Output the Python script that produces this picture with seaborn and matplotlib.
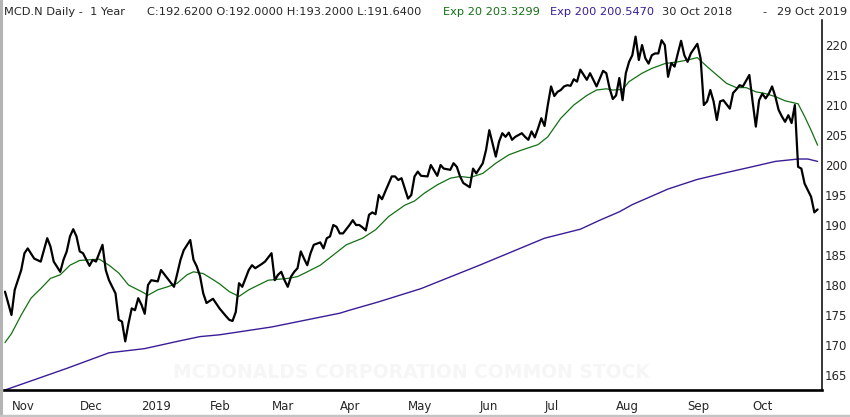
import matplotlib
matplotlib.use('Agg')
import matplotlib.pyplot as plt
from matplotlib.lines import Line2D
import seaborn as sns

# ---- data (x = trading day number since 30 Oct 2018) ----
close_day = [0, 2, 3, 5, 6, 7, 9, 11, 13, 14,
             15, 17, 18, 19, 20, 21, 22, 23, 24, 26,
             27, 28, 30, 31, 32, 33, 34, 35, 36, 37,
             38, 39, 40, 41, 42, 43, 44, 45, 47, 48,
             50, 52, 53, 54, 55, 57, 58, 59, 60, 61,
             62, 64, 66, 68, 69, 70, 71, 72, 73, 75,
             76, 77, 79, 80, 82, 83, 84, 85, 86, 87,
             88, 89, 90, 91, 92, 93, 94, 95, 97, 98,
             99, 100, 101, 102, 103, 104, 106, 107, 108, 109,
             110, 111, 112, 113, 114, 115, 116, 117, 119, 120,
             121, 122, 124, 125, 126, 127, 128, 130, 131, 133,
             134, 135, 137, 138, 139, 140, 141, 143, 144, 145,
             147, 148, 149, 151, 152, 153, 154, 155, 156, 157,
             159, 160, 161, 162, 163, 164, 165, 166, 167, 168,
             169, 170, 171, 172, 173, 174, 175, 176, 177, 179,
             180, 181, 182, 184, 185, 186, 187, 188, 189, 190,
             191, 192, 193, 194, 195, 196, 197, 198, 199, 200,
             201, 202, 203, 204, 205, 206, 207, 208, 209, 210,
             211, 213, 214, 215, 216, 217, 218, 219, 220, 221,
             223, 224, 225, 226, 227, 229, 230, 231, 232, 233,
             234, 235, 236, 237, 238, 239, 240, 241, 242, 243,
             244, 245, 246, 248, 249, 250]
close_price = [178.9, 175.0, 179.2, 182.5, 185.3, 186.1, 184.4, 183.9, 187.8, 186.4,
               183.9, 182.2, 184.2, 185.6, 188.1, 189.3, 188.1, 185.6, 185.3, 183.2,
               184.2, 183.9, 186.7, 182.5, 180.8, 179.7, 178.6, 174.2, 173.9, 170.6,
               173.6, 176.1, 175.8, 177.8, 176.7, 175.2, 180.0, 180.8, 180.6, 182.5,
               181.1, 179.7, 181.9, 184.2, 185.8, 187.5, 184.2, 183.1, 181.5, 178.6,
               177.0, 177.7, 176.1, 174.8, 174.2, 174.0, 175.5, 180.3, 179.7, 182.5,
               183.3, 182.8, 183.5, 183.9, 185.3, 180.8, 181.7, 182.2, 180.8, 179.7,
               181.4, 182.2, 182.8, 185.6, 184.4, 183.3, 185.3, 186.7, 187.1, 186.1,
               187.8, 188.1, 190.0, 189.7, 188.6, 188.6, 190.0, 190.8, 190.0, 190.0,
               189.6, 189.1, 191.7, 192.1, 191.8, 195.0, 194.3, 195.6, 198.1, 198.1,
               197.5, 197.8, 194.4, 195.0, 198.1, 198.9, 198.2, 198.1, 200.0, 198.2,
               200.0, 199.4, 199.2, 200.3, 199.7, 198.1, 197.0, 196.3, 199.4, 198.6,
               200.3, 202.5, 205.8, 201.4, 203.9, 205.3, 204.7, 205.4, 204.2, 204.7,
               205.3, 204.7, 204.2, 205.6, 204.6, 206.1, 207.8, 206.5, 210.0, 213.1,
               211.5, 212.2, 212.5, 213.1, 213.3, 213.2, 214.3, 213.9, 215.9, 214.2,
               215.3, 214.2, 213.1, 215.7, 215.3, 212.8, 211.0, 211.6, 214.5, 210.8,
               215.3, 217.2, 218.3, 221.4, 217.5, 220.0, 217.8, 216.9, 218.3, 218.6,
               218.6, 220.8, 220.0, 214.7, 217.0, 216.4, 218.6, 220.7, 218.3, 217.2,
               218.6, 220.2, 217.8, 210.0, 210.6, 212.5, 210.6, 207.5, 210.6, 210.8,
               209.4, 212.0, 212.6, 213.3, 213.1, 215.0, 210.6, 206.4, 210.8, 211.9,
               211.1, 211.9, 213.1, 211.4, 209.2, 208.1, 207.2, 208.3, 207.0, 210.0,
               199.7, 199.4, 196.9, 194.7, 192.1, 192.6]

ema20_day = [0, 2, 5, 8, 11, 14, 17, 20, 23, 26, 29, 32, 35, 38, 42, 44, 47, 50, 53, 56,
             58, 61, 64, 66, 69, 72, 75, 81, 87, 90, 93, 97, 101, 105, 110, 114, 118, 123,
             126, 129, 133, 137, 140, 143, 147, 151, 155, 159, 164, 167, 171, 175, 179,
             182, 185, 187, 190, 192, 196, 199, 203, 207, 210, 213, 216, 219, 222, 225,
             228, 231, 234, 237, 240, 244, 246, 248, 250]
ema20 = [170.4, 171.9, 175.0, 177.8, 179.4, 181.1, 181.7, 183.3, 184.1, 184.2, 184.3,
         183.3, 182.0, 180.0, 178.9, 178.3, 179.2, 179.7, 180.3, 181.7, 182.2, 181.9,
         180.9, 180.2, 178.9, 178.1, 179.2, 180.8, 181.1, 181.4, 182.2, 183.3, 185.0,
         186.7, 187.8, 189.2, 191.4, 193.3, 194.0, 195.3, 196.7, 197.8, 198.1, 197.9,
         198.6, 200.3, 201.7, 202.5, 203.4, 204.7, 207.8, 210.0, 211.6, 212.5, 212.7,
         212.5, 212.6, 213.9, 215.3, 216.1, 216.9, 217.2, 217.5, 217.9, 216.4, 215.0,
         213.6, 212.9, 212.9, 212.2, 211.9, 211.4, 210.7, 210.2, 208.1, 205.8, 203.3]

ema200_day = [0, 9, 19, 32, 43, 53, 60, 66, 82, 103, 106, 115, 128, 146, 166, 177, 183,
              189, 193, 204, 213, 220, 229, 237, 244, 247, 250]
ema200 = [162.5, 164.2, 166.1, 168.7, 169.4, 170.6, 171.4, 171.7, 173.0, 175.3, 175.8,
          177.2, 179.4, 183.3, 187.8, 189.3, 190.8, 192.2, 193.4, 196.0, 197.6, 198.5,
          199.6, 200.6, 201.0, 201.0, 200.6]

# month boundaries (trading day number) and their labels
month_day = [2, 23, 42, 63, 82, 103, 124, 146, 166, 188, 210, 230]
month_label = ['Nov', 'Dec', '2019', 'Feb', 'Mar', 'Apr', 'May', 'Jun', 'Jul',
               'Aug', 'Sep', 'Oct']
price_ticks = [165, 170, 175, 180, 185, 190, 195, 200, 205, 210, 215, 220]

assert len(close_day) == len(close_price)
assert len(ema20_day) == len(ema20)
assert len(ema200_day) == len(ema200)

# ---- style ----
sns.set_style('white')
plt.rcParams['font.family'] = ['DejaVu Sans']

GREEN = '#137013'
PURPLE = '#3a1d96'

W, H = 850, 417
fig = plt.figure(figsize=(W / 100, H / 100), dpi=100)
ax = fig.add_axes([4 / W, 27 / H, 817.5 / W, 370 / H])

# watermark behind the lines
ax.text(411 / W, 1 - 372 / H, 'MCDONALDS CORPORATION COMMON STOCK',
        transform=fig.transFigure, ha='center', va='center', zorder=0,
        fontsize=13.5, fontweight='bold', color='#f6f6f6')

# ---- the three lines ----
sns.lineplot(x=ema200_day, y=ema200, color=PURPLE, linewidth=1.0, ax=ax)
sns.lineplot(x=ema20_day, y=ema20, color=GREEN, linewidth=0.9, ax=ax)
sns.lineplot(x=close_day, y=close_price, color='black', linewidth=1.6, ax=ax)

ax.set_xlim(-0.3, 251.2)
ax.set_ylim(162.5, 224.17)

# ---- axes ----
ax.spines['left'].set_visible(False)
ax.spines['top'].set_visible(False)
ax.spines['bottom'].set_linewidth(1.9)
ax.spines['right'].set_linewidth(1.1)
ax.spines['bottom'].set_color('black')
ax.spines['right'].set_color('black')

ax.set_xticks(month_day)
ax.set_xticklabels(month_label, fontsize=8.5)
for lbl in ax.get_xticklabels():
    lbl.set_ha('left')
ax.tick_params(axis='x', direction='out', length=5, width=1.2, color='black', pad=2.5)

ax.yaxis.tick_right()
ax.set_yticks(price_ticks)
ax.set_yticklabels([str(t) for t in price_ticks], fontsize=8.5)
ax.tick_params(axis='y', length=0, pad=2.5)
ax.set_xlabel('')
ax.set_ylabel('')

# ---- header line ----
ty = 1 - 12 / H
fs = 8.2
fig.text(4 / W, ty, 'MCD.N Daily -  1 Year', fontsize=fs, va='center')
fig.text(147 / W, ty, 'C:192.6200 O:192.0000 H:193.2000 L:191.6400', fontsize=fs, va='center')
fig.text(443 / W, ty, 'Exp 20 203.3299', fontsize=fs, va='center', color=GREEN)
fig.text(550 / W, ty, 'Exp 200 200.5470', fontsize=fs, va='center', color=PURPLE)
fig.text(662 / W, ty, '30 Oct 2018', fontsize=fs, va='center')
fig.text(762 / W, ty, '-', fontsize=fs, va='center')
fig.text(777 / W, ty, '29 Oct 2019', fontsize=fs, va='center')

# grey frame on the left and bottom edge
fig.add_artist(Line2D([1 / W, 1 / W], [0, 1], transform=fig.transFigure,
                      color='#b4b4b4', linewidth=2.2))
fig.add_artist(Line2D([0, 1], [1.5 / H, 1.5 / H], transform=fig.transFigure,
                      color='#c4c4c4', linewidth=2.5))

fig.savefig('out.png', dpi=100)
